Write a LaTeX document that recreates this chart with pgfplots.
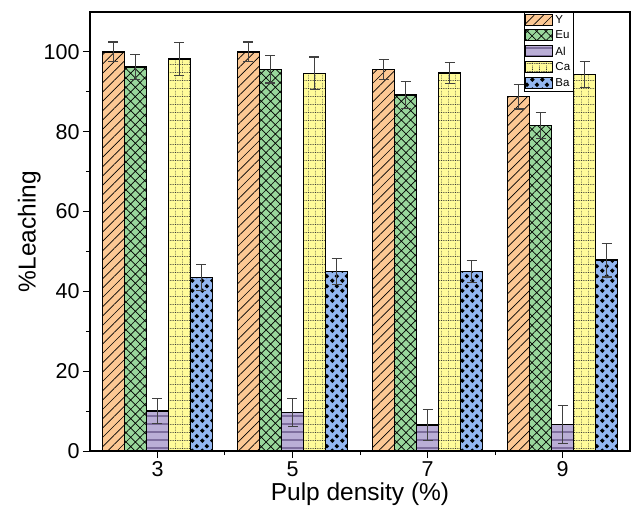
\documentclass[border=0pt]{standalone}
\usepackage{pgfplots}
\pgfplotsset{compat=1.18}
\usepackage{pgfplotstable}
\usepackage{fontspec}
\setmainfont{Liberation Sans}
\usetikzlibrary{patterns.meta}

\definecolor{ycol}{HTML}{FCC894}
\definecolor{eucol}{HTML}{99D79C}
\definecolor{alcol}{HTML}{BAAED6}
\definecolor{cacol}{HTML}{FFFB99}
\definecolor{bacol}{HTML}{93B6F0}
\definecolor{alline}{HTML}{7E6E9E}
\definecolor{errcol}{HTML}{404040}

\tikzdeclarepattern{
  name=dotgrid,
  type=uncolored,
  bottom left={(0pt,0pt)},
  top right={(7pt,8pt)},
  tile size={(7pt,8pt)},
  code={
    \draw[line width=0.7pt, dash pattern=on 1pt off 1pt] (0pt,0.5pt) -- (7pt,0.5pt);
    \draw[line width=0.7pt, dash pattern=on 1pt off 1pt] (0.5pt,0pt) -- (0.5pt,8pt);
  }
}
\tikzdeclarepattern{
  name=diamonds,
  type=uncolored,
  bottom left={(0pt,0pt)},
  top right={(10pt,10pt)},
  tile size={(10pt,10pt)},
  code={
    \fill (2.5pt,0pt) -- (5pt,2.5pt) -- (2.5pt,5pt) -- (0pt,2.5pt) -- cycle;
    \fill (7.5pt,5pt) -- (10pt,7.5pt) -- (7.5pt,10pt) -- (5pt,7.5pt) -- cycle;
  }
}

\pgfplotstableread{
x y err
0 100.0 2.5
1 100.0 2.5
2 95.6 2.5
3 88.8 3.1
}\Ytab
\pgfplotstableread{
x y err
0 96.2 3.2
1 95.6 3.4
2 89.2 3.3
3 81.6 3.3
}\Eutab
\pgfplotstableread{
x y err
0 10.0 3.1
1 9.7 3.5
2 6.5 3.8
3 6.7 4.8
}\Altab
\pgfplotstableread{
x y err
0 98.2 4.2
1 94.6 4.1
2 94.7 2.7
3 94.3 3.3
}\Catab
\pgfplotstableread{
x y err
0 43.5 3.3
1 45.0 3.3
2 45.0 2.8
3 47.8 4.2
}\Batab

\begin{document}
\begin{tikzpicture}
\begin{axis}[
  scale only axis,
  width=540pt, height=439pt,
  xmin=-0.5, xmax=3.5,
  ymin=0, ymax=110,
  ybar=0pt,
  bar width=22pt,
  xtick={0,1,2,3},
  xticklabels={3,5,7,9},
  minor xtick={0.5,1.5,2.5},
  ytick={0,20,40,60,80,100},
  minor ytick={10,30,50,70,90},
  tick align=outside,
  xtick pos=bottom, ytick pos=left,
  major tick length=7pt,
  minor tick length=4pt,
  every tick/.style={black, line width=1pt},
  axis line style={line width=1.5pt},
  ticklabel style={font=\fontsize{21.5}{24}\selectfont},
  /pgf/number format/assume math mode=true,
  xlabel={Pulp density (\%)},
  ylabel={\%Leaching},
  label style={font=\fontsize{24.5}{27}\selectfont},
  xlabel style={yshift=1pt},
  ylabel style={yshift=-4pt},
  legend style={at={(rel axis cs:0.804,1)}, anchor=north west,
    draw=black, line width=0.6pt, font=\fontsize{11.5}{13}\selectfont,
    inner sep=1pt, row sep=2.3pt, cells={anchor=west}},
  legend image code/.code={\draw[#1, line width=1pt] (0pt,-5pt) rectangle (27pt,6pt);},
  error bars/y dir=both,
  error bars/y explicit,
  error bars/error bar style={line width=1.2pt, draw=errcol, solid},
  error bars/error mark options={rotate=90, mark size=5pt, line width=1.2pt, draw=errcol},
]
\addplot[draw=black, line width=1.5pt, fill=ycol,
  postaction={pattern={Lines[angle=45,distance=6.6pt,line width=0.7pt]}, pattern color=black}]
  table[x=x, y=y, y error=err] {\Ytab};
\addplot[draw=black, line width=1.5pt, fill=eucol,
  postaction={pattern={Hatch[angle=45,distance=6.6pt,line width=0.7pt]}, pattern color=black}]
  table[x=x, y=y, y error=err] {\Eutab};
\addplot[draw=black, line width=1.5pt, fill=alcol,
  postaction={pattern={Lines[angle=0,distance=8pt,line width=1.2pt]}, pattern color=alline}]
  table[x=x, y=y, y error=err] {\Altab};
\addplot[draw=black, line width=1.5pt, fill=cacol,
  postaction={pattern=dotgrid, pattern color=black!80}]
  table[x=x, y=y, y error=err] {\Catab};
\addplot[draw=black, line width=1.5pt, fill=bacol,
  postaction={pattern=diamonds, pattern color=black}]
  table[x=x, y=y, y error=err] {\Batab};
\legend{Y,Eu,Al,Ca,Ba}
\end{axis}
\pgfresetboundingbox
\path ([shift={(-90pt,-61pt)}]current axis.south west) rectangle ([shift={(2pt,12pt)}]current axis.north east);
\end{tikzpicture}
\end{document}
